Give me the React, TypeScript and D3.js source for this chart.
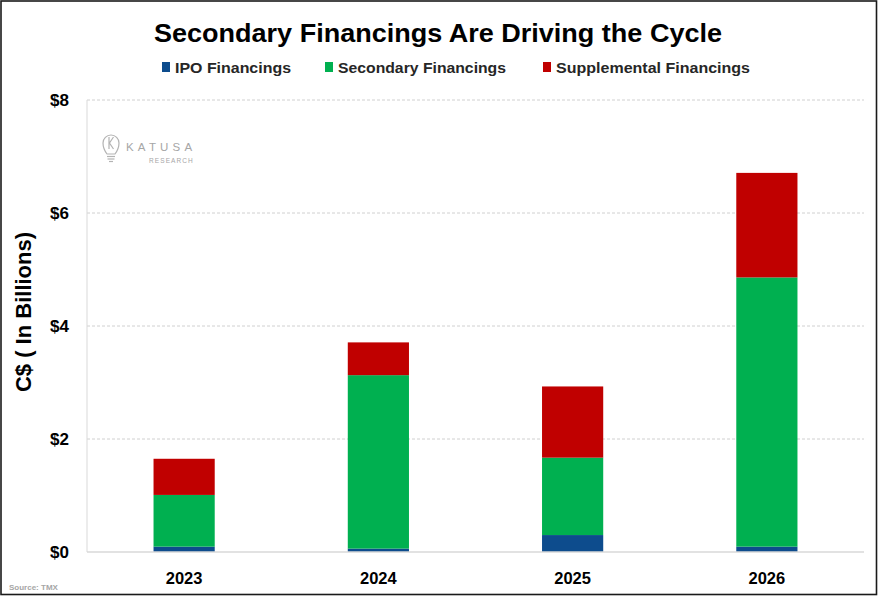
import React from "react";
import * as d3 from "d3";

const years = ["2023", "2024", "2025", "2026"];
const ipo = [0.095, 0.06, 0.3, 0.095];
const secondary = [0.915, 3.07, 1.37, 4.765];
const supplemental = [0.64, 0.58, 1.26, 1.85];
const yTicks = [0, 2, 4, 6, 8];

const seriesNames = ["IPO Financings", "Secondary Financings", "Supplemental Financings"];
const colors = ["#0D4C8D", "#00B050", "#C00000"];

const W = 878;
const H = 597;
const margin = { top: 100, right: 14, bottom: 45, left: 87 };

const App = () => {
  const x = d3
    .scaleBand()
    .domain(years)
    .range([margin.left, W - margin.right])
    .padding(0);
  const y = d3
    .scaleLinear()
    .domain([0, 8])
    .range([H - margin.bottom, margin.top]);

  const rows = years.map((yr, i) => ({
    year: yr,
    ipo: ipo[i],
    secondary: secondary[i],
    supplemental: supplemental[i],
  }));
  const stack = d3.stack<any>().keys(["ipo", "secondary", "supplemental"])(rows);

  const barW = x.bandwidth() * 0.315;

  // legend layout (square x, text x, text width)
  const legend = [
    { sq: 162, tx: 175, w: 116 },
    { sq: 325, tx: 338, w: 168 },
    { sq: 543, tx: 556, w: 194 },
  ];

  return (
    <svg
      width={W}
      height={H}
      style={{ position: "absolute", left: 0, top: 0, display: "block" }}
      fontFamily="Liberation Sans, Arial, sans-serif"
    >
      <rect x={1} y={1} width={W - 2.5} height={H - 3.5} fill="#fff" stroke="#1a1a1a" strokeWidth={1.6} />

      <text x={438} y={42} textAnchor="middle" fontSize={26} fontWeight="bold" fill="#000" textLength={568} lengthAdjust="spacingAndGlyphs">
        Secondary Financings Are Driving the Cycle
      </text>

      {seriesNames.map((s, i) => (
        <g key={s}>
          <rect x={legend[i].sq} y={62} width={8} height={10} fill={colors[i]} />
          <text x={legend[i].tx} y={73} fontSize={15} fontWeight="bold" fill="#262626" textLength={legend[i].w} lengthAdjust="spacingAndGlyphs">
            {s}
          </text>
        </g>
      ))}

      {/* logo */}
      <g fill="none" stroke="#b3b3b3" strokeWidth={1.2}>
        <path d="M107,154 C104,150 103,147 103,143 A8,8 0 1 1 119,143 C119,147 118,150 115,154 Z" />
        <line x1={107} y1={156.5} x2={115} y2={156.5} />
        <line x1={107.5} y1={159} x2={114.5} y2={159} />
        <line x1={109} y1={161.5} x2={113} y2={161.5} />
        <path d="M109,137 L109,149 M113.5,137 L109.5,143 L113.5,149" />
      </g>
      <text x={126} y={151} fontSize={11.5} fill="#a6a6a6" letterSpacing={4.2}>KATUSA</text>
      <text x={149} y={162.5} fontSize={6.5} fill="#a6a6a6" letterSpacing={1.1}>RESEARCH</text>

      {/* gridlines */}
      {yTicks.filter((t) => t > 0).map((t) => (
        <line key={t} x1={margin.left} x2={W - margin.right} y1={y(t)} y2={y(t)} stroke="#d0d0d0" strokeDasharray="3,2" strokeWidth={1} />
      ))}
      <line x1={margin.left} x2={margin.left} y1={y(8)} y2={y(0)} stroke="#d9d9d9" strokeWidth={1} />

      {/* bars */}
      {stack.map((layer, li) =>
        layer.map((d, i) => (
          <rect
            key={`${li}-${i}`}
            x={(x(years[i]) as number) + x.bandwidth() / 2 - barW / 2}
            y={y(d[1])}
            width={barW}
            height={y(d[0]) - y(d[1])}
            fill={colors[li]}
          />
        ))
      )}

      <line x1={margin.left} x2={W - margin.right} y1={y(0)} y2={y(0)} stroke="#d9d9d9" strokeWidth={1.5} />

      {/* y ticks */}
      {yTicks.map((t) => (
        <text key={t} x={69} y={y(t) + 6} textAnchor="end" fontSize={17} fontWeight="bold" fill="#000">
          ${t}
        </text>
      ))}
      <text transform={`translate(31,${312}) rotate(-90)`} textAnchor="middle" fontSize={22} fontWeight="bold" fill="#000">
        C$ ( In Billions)
      </text>

      {/* x ticks */}
      {years.map((yr) => (
        <text key={yr} x={(x(yr) as number) + x.bandwidth() / 2} y={584} textAnchor="middle" fontSize={16.5} fontWeight="bold" fill="#000">
          {yr}
        </text>
      ))}

      <text x={9} y={590} fontSize={8} fontWeight="bold" fill="#a6a6a6">Source: TMX</text>
    </svg>
  );
};

export default App;
